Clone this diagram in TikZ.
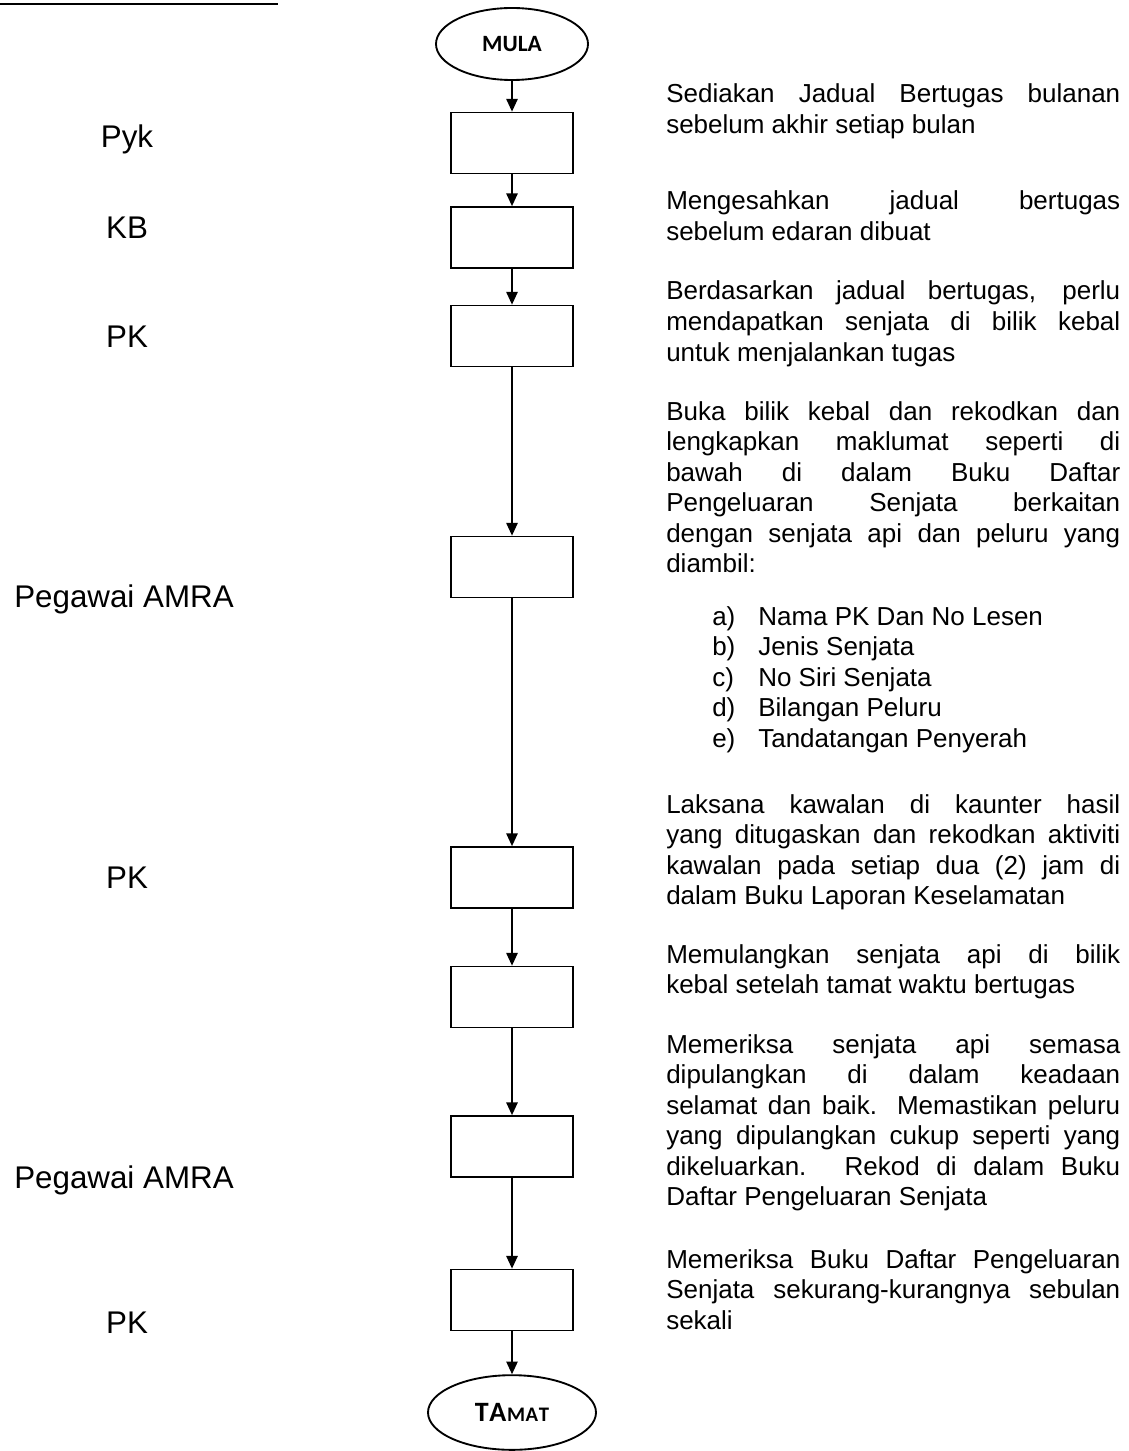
\documentclass[tikz,border=0pt]{standalone}
\usepackage{fontspec}
\setmainfont{Liberation Sans}
\newfontfamily\carl{Carlito}
\usetikzlibrary{arrows.meta,shapes.geometric}
\newcommand\jl[1]{\makebox[340.5pt][s]{#1}}
\newcommand\li[2]{\makebox[34.5pt][l]{#1}#2}
\begin{document}
\begin{tikzpicture}[x=0.75pt,y=-0.75pt,
  term/.style={draw, ellipse, line width=1.4pt, inner sep=0pt},
  stepbox/.style={draw, rectangle, line width=1.3pt, minimum width=91.5pt, minimum height=45.75pt, inner sep=0pt},
  arr/.style={draw, line width=1.1pt, -{Triangle[width=8.5pt,length=9.5pt]}},
  ln/.style={anchor=base west, inner sep=0pt, font=\fontsize{19.5pt}{23pt}\selectfont},
  lbl/.style={anchor=base, inner sep=0pt, font=\fontsize{23.5pt}{28pt}\selectfont}]
\useasboundingbox (0,0) rectangle (1128,1451);
\fill[white] (0,0) rectangle (1128,1451);
\draw[line width=2.2pt] (0,4) -- (278,4);
% flow
\node[term, minimum width=114pt, minimum height=54pt] (start) at (512,44) {\carl\bfseries\fontsize{17.5pt}{19pt}\selectfont MULA};
\node[stepbox] (b1) at (512,143) {};
\node[stepbox] (b2) at (512,237.5) {};
\node[stepbox] (b3) at (512,336) {};
\node[stepbox] (b4) at (512,567) {};
\node[stepbox] (b5) at (512,877.5) {};
\node[stepbox] (b6) at (512,997) {};
\node[stepbox] (b7) at (512,1146.5) {};
\node[stepbox] (b8) at (512,1300) {};
\node[term, minimum width=126pt, minimum height=56pt] (stop) at (512,1412.5) {\carl\bfseries{\fontsize{21pt}{23pt}\selectfont T\kern0.5pt A\kern0.5pt}{\fontsize{15.5pt}{17pt}\selectfont M\kern0.5pt A\kern0.5pt T}};
\draw[arr] (start) -- (b1);
\draw[arr] (b1) -- (b2);
\draw[arr] (b2) -- (b3);
\draw[arr] (b3) -- (b4);
\draw[arr] (b4) -- (b5);
\draw[arr] (b5) -- (b6);
\draw[arr] (b6) -- (b7);
\draw[arr] (b7) -- (b8);
\draw[arr] (b8) -- (stop);
% roles
\node[lbl] (r1) at (127,148) {Pyk};
\node[lbl] (r2) at (127,239) {KB};
\node[lbl] (r3) at (127,347) {PK};
\node[lbl] (r4) at (124,607) {Pegawai AMRA};
\node[lbl] (r5) at (127,888) {PK};
\node[lbl] (r6) at (124,1188) {Pegawai AMRA};
\node[lbl] (r7) at (127,1333) {PK};
% descriptions
\node[ln] (t1a) at (666,103) {\jl{Sediakan Jadual Bertugas bulanan}};
\node[ln] (t1b) at (666,133.5) {sebelum akhir setiap bulan};
\node[ln] (t2a) at (666,210) {\jl{Mengesahkan jadual bertugas}};
\node[ln] (t2b) at (666,240.5) {sebelum edaran dibuat};
\node[ln] (t3a) at (666,300) {\jl{Berdasarkan jadual bertugas, perlu}};
\node[ln] (t3b) at (666,330.5) {\jl{mendapatkan senjata di bilik kebal}};
\node[ln] (t3c) at (666,361) {untuk menjalankan tugas};
\node[ln] (t4a) at (666,420) {\jl{Buka bilik kebal dan rekodkan dan}};
\node[ln] (t4b) at (666,450.5) {\jl{lengkapkan maklumat seperti di}};
\node[ln] (t4c) at (666,481) {\jl{bawah di dalam Buku Daftar}};
\node[ln] (t4d) at (666,511.5) {\jl{Pengeluaran Senjata berkaitan}};
\node[ln] (t4e) at (666,542) {\jl{dengan senjata api dan peluru yang}};
\node[ln] (t4f) at (666,572.5) {diambil:};
\node[ln] (la) at (712,625) {\li{a)}{Nama PK Dan No Lesen}};
\node[ln] (lb) at (712,655.5) {\li{b)}{Jenis Senjata}};
\node[ln] (lc) at (712,686) {\li{c)}{No Siri Senjata}};
\node[ln] (ld) at (712,716.5) {\li{d)}{Bilangan Peluru}};
\node[ln] (le) at (712,747) {\li{e)}{Tandatangan Penyerah}};
\node[ln] (t5a) at (666,813) {\jl{Laksana kawalan di kaunter hasil}};
\node[ln] (t5b) at (666,843.5) {\jl{yang ditugaskan dan rekodkan aktiviti}};
\node[ln] (t5c) at (666,874) {\jl{kawalan pada setiap dua (2) jam di}};
\node[ln] (t5d) at (666,904.5) {dalam Buku Laporan Keselamatan};
\node[ln] (t6a) at (666,963) {\jl{Memulangkan senjata api di bilik}};
\node[ln] (t6b) at (666,993.5) {kebal setelah tamat waktu bertugas};
\node[ln] (t7a) at (666,1053) {\jl{Memeriksa senjata api semasa}};
\node[ln] (t7b) at (666,1083.5) {\jl{dipulangkan di dalam keadaan}};
\node[ln] (t7c) at (666,1114) {\jl{selamat dan baik. Memastikan peluru}};
\node[ln] (t7d) at (666,1144.5) {\jl{yang dipulangkan cukup seperti yang}};
\node[ln] (t7e) at (666,1175) {\jl{dikeluarkan. Rekod di dalam Buku}};
\node[ln] (t7f) at (666,1205.5) {Daftar Pengeluaran Senjata};
\node[ln] (t8a) at (666,1268) {\jl{Memeriksa Buku Daftar Pengeluaran}};
\node[ln] (t8b) at (666,1298.5) {\jl{Senjata sekurang-kurangnya sebulan}};
\node[ln] (t8c) at (666,1329) {sekali};
\end{tikzpicture}
\end{document}
